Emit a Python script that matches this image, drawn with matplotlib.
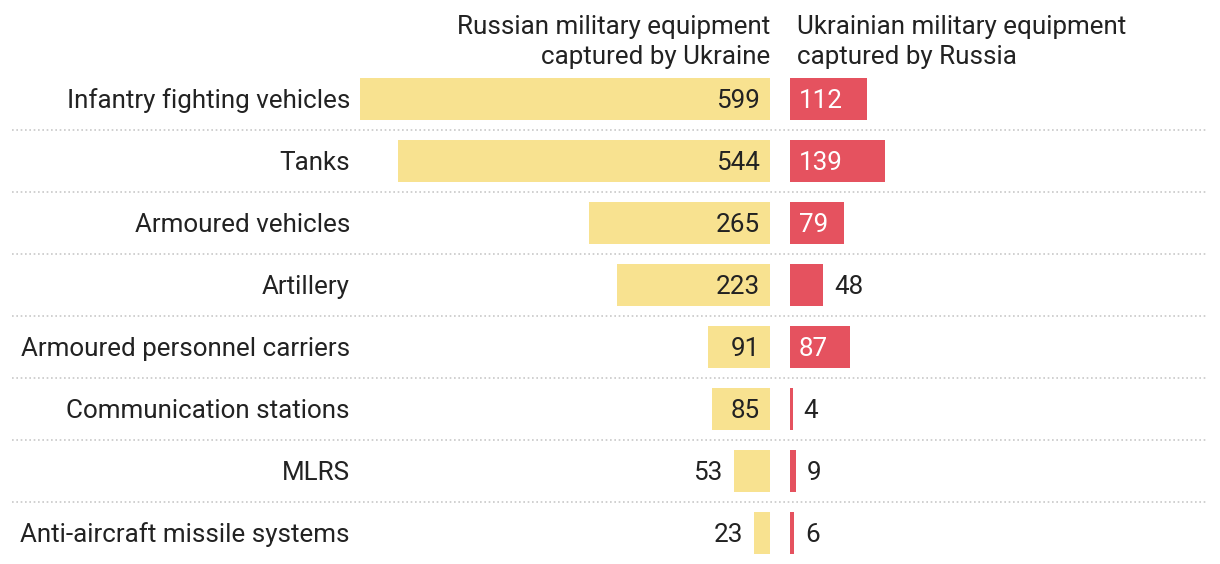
import matplotlib.pyplot as plt
from matplotlib.transforms import offset_copy

plt.rcParams['font.family'] = ['Roboto', 'DejaVu Sans']

categories = ["Infantry fighting vehicles", "Tanks", "Armoured vehicles", "Artillery",
              "Armoured personnel carriers", "Communication stations", "MLRS",
              "Anti-aircraft missile systems"]
russian_lost = [599, 544, 265, 223, 91, 85, 53, 23]
ukrainian_lost = [112, 139, 79, 48, 87, 4, 9, 6]
header_left = "Russian military equipment\ncaptured by Ukraine"
header_right = "Ukrainian military equipment\ncaptured by Russia"

YELLOW = '#f8e290'
RED = '#e5525f'
TEXT = '#222222'
FS = 18.7
BASE = -9  # baseline offset from row centre, in pixels

W, H = 1220, 564
fig = plt.figure(figsize=(W / 100, H / 100), dpi=100)

top, bottom = 68, 564
n = len(categories)
xmax = 420 / 0.6845


def frame(x0, x1):
    return [x0 / W, (H - bottom) / H, (x1 - x0) / W, (bottom - top) / H]


# background axes for separators and category labels
bg = fig.add_axes([0, (H - bottom) / H, 1, (bottom - top) / H])
bg.set_xlim(0, W)
bg.set_ylim(n - 0.5, -0.5)
bg.axis('off')
for i in range(n - 1):
    bg.plot([12, 1208], [i + 0.5, i + 0.5], color='#c8c8c8', lw=1.2,
            linestyle=(0, (1, 1.6)))
tb = offset_copy(bg.transData, fig=fig, y=BASE, units='dots')
for i, c in enumerate(categories):
    bg.text(350, i, c, transform=tb, ha='right', va='baseline', fontsize=FS, color=TEXT)

axl = fig.add_axes(frame(350, 770))
axr = fig.add_axes(frame(790, 1210))
for ax in (axl, axr):
    ax.set_xlim(0, xmax)
    ax.set_ylim(n - 0.5, -0.5)
    ax.axis('off')
    ax.patch.set_alpha(0)
axl.invert_xaxis()

ys = list(range(n))
axl.barh(ys, russian_lost, height=0.68, color=YELLOW)
axr.barh(ys, ukrainian_lost, height=0.68, color=RED)

for y, v in zip(ys, russian_lost):
    if v >= 80:
        t = offset_copy(axl.transData, fig=fig, x=-10, y=BASE, units='dots')
        axl.text(0, y, str(v), transform=t, ha='right', va='baseline', fontsize=FS, color=TEXT)
    else:
        t = offset_copy(axl.transData, fig=fig, x=-11, y=BASE, units='dots')
        axl.text(v, y, str(v), transform=t, ha='right', va='baseline', fontsize=FS, color=TEXT)

for y, v in zip(ys, ukrainian_lost):
    if v >= 70:
        t = offset_copy(axr.transData, fig=fig, x=9, y=BASE, units='dots')
        axr.text(0, y, str(v), transform=t, ha='left', va='baseline', fontsize=FS, color='white')
    else:
        t = offset_copy(axr.transData, fig=fig, x=11, y=BASE, units='dots')
        axr.text(v, y, str(v), transform=t, ha='left', va='baseline', fontsize=FS, color=TEXT)

for k, (l1, l2) in enumerate(zip(header_left.split('\n'), header_right.split('\n'))):
    yb = 1 - (34 + 30 * k) / H
    fig.text(770 / W, yb, l1, ha='right', va='baseline', fontsize=FS, color=TEXT)
    fig.text(797 / W, yb, l2, ha='left', va='baseline', fontsize=FS, color=TEXT)

fig.savefig('out.png', dpi=100)
